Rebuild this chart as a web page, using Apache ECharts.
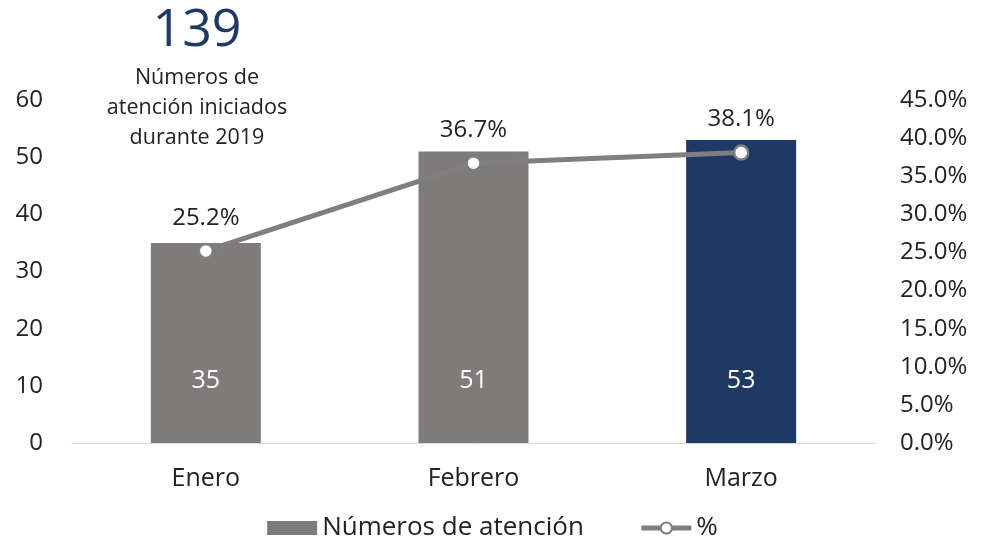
<!DOCTYPE html>
<html>
<head>
<meta charset="utf-8">
<script src="https://cdn.jsdelivr.net/npm/echarts@6/dist/echarts.min.js"></script>
<style>
  html, body { margin: 0; padding: 0; background: #fff; }
  #chart { width: 985px; height: 546px; }
</style>
</head>
<body>
<div id="chart"></div>
<script>
var months = ['Enero', 'Febrero', 'Marzo']
var atenciones = [35, 51, 53]
var porcentaje = [25.2, 36.7, 38.1]
var leftTicks = [0, 10, 20, 30, 40, 50, 60]
var rightTicks = [0, 5, 10, 15, 20, 25, 30, 35, 40, 45]

var font = 'Open Sans'
var gris = '#7f7b7b'
var azul = '#1f3864'

var chart = echarts.init(document.getElementById('chart'))

var option = {
  animation: false,
  textStyle: { fontFamily: font },
  title: {
    text: '139',
    subtext: 'Números de\natención iniciados\ndurante 2019',
    left: 192,
    top: 0,
    textAlign: 'center',
    itemGap: 6,
    textStyle: { fontSize: 52, fontWeight: 'normal', color: azul, fontFamily: font },
    subtextStyle: { fontSize: 21.5, lineHeight: 30, color: '#222', fontFamily: font, align: 'center' }
  },
  legend: {
    bottom: 0,
    left: 'center',
    itemGap: 55,
    itemWidth: 50,
    itemHeight: 14,
    textStyle: { fontSize: 26, color: '#222', fontFamily: font },
    data: [
      { name: 'Números de atención', icon: 'rect' },
      { name: '%', lineStyle: { width: 5 } }
    ]
  },
  grid: { left: 72, right: 110, top: 100, bottom: 103 },
  xAxis: {
    type: 'category',
    data: months,
    axisLine: { lineStyle: { color: '#d9d9d9', width: 1 } },
    axisTick: { show: false },
    axisLabel: { fontSize: 25, color: '#222', margin: 23 }
  },
  yAxis: [
    {
      type: 'value',
      min: leftTicks[0],
      max: leftTicks[leftTicks.length - 1],
      interval: 10,
      splitLine: { show: false },
      axisLabel: { fontSize: 24, color: '#222', margin: 29 }
    },
    {
      type: 'value',
      min: rightTicks[0],
      max: rightTicks[rightTicks.length - 1],
      interval: 5,
      splitLine: { show: false },
      axisLabel: {
        fontSize: 24,
        color: '#222',
        margin: 25,
        formatter: function (v) { return v.toFixed(1) + '%' }
      }
    }
  ],
  series: [
    {
      name: 'Números de atención',
      type: 'bar',
      barWidth: 110,
      data: atenciones.map(function (v, i) {
        return { value: v, itemStyle: { color: i === 2 ? azul : gris } }
      }),
      itemStyle: { color: gris },
      label: {
        show: true,
        position: 'insideBottom',
        distance: 50,
        color: '#fff',
        fontSize: 25
      }
    },
    {
      name: '%',
      type: 'line',
      yAxisIndex: 1,
      data: porcentaje,
      symbol: 'circle',
      symbolSize: 14,
      lineStyle: { color: '#7f7f7f', width: 5 },
      itemStyle: { color: '#fff', borderColor: '#7f7f7f', borderWidth: 2.5 },
      label: {
        show: true,
        position: 'top',
        distance: 13,
        color: '#222',
        fontSize: 24,
        formatter: function (p) { return p.value.toFixed(1) + '%' }
      }
    }
  ]
}

chart.setOption(option)
</script>
</body>
</html>
